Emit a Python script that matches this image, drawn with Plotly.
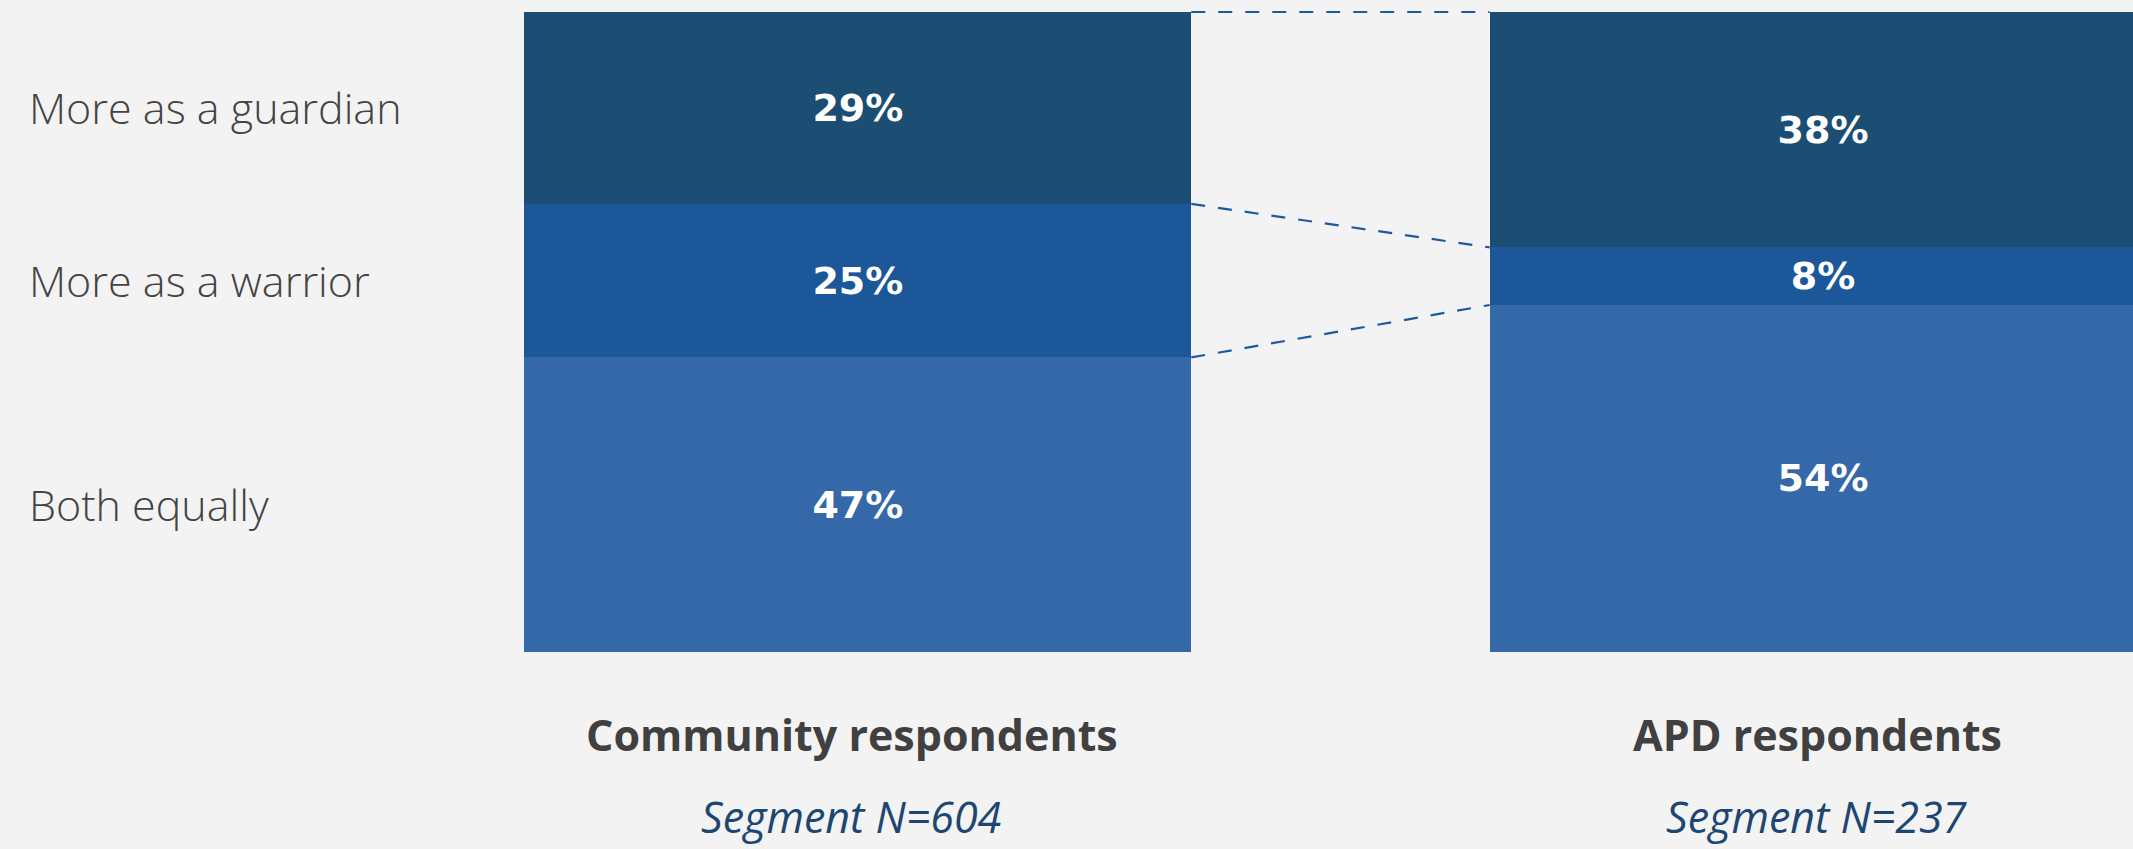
import plotly.graph_objects as go

# ---- data ----
groups = ["Community respondents", "APD respondents"]
group_n = ["Segment N=604", "Segment N=237"]
categories = ["More as a guardian", "More as a warrior", "Both equally"]
# segment heights as drawn (share of bar, %)
guardian = [30.0, 36.8]
warrior = [24.0, 9.0]
both = [46.0, 54.2]
# printed labels
guardian_lbl = ["29%", "38%"]
warrior_lbl = ["25%", "8%"]
both_lbl = ["47%", "54%"]

# ---- styles ----
BG = "#f3f3f3"
C_GUARD = "#1c4d72"
C_WAR = "#1c5799"
C_BOTH = "#3568a8"
C_DASH = "#1c5aa0"
BAR_W = 0.6908
xpos = [0, 1]

fig = go.Figure()
pct_font = dict(family="DejaVu Sans", size=38, color="white", weight="bold")
for vals, lbls, col, name in [
    (both, both_lbl, C_BOTH, categories[2]),
    (warrior, warrior_lbl, C_WAR, categories[1]),
    (guardian, guardian_lbl, C_GUARD, categories[0]),
]:
    fig.add_trace(go.Bar(
        x=xpos, y=vals, width=BAR_W, name=name,
        marker=dict(color=col, line=dict(width=0)),
        text=lbls, texttemplate="%{text}", textposition="inside",
        insidetextanchor="middle", textangle=0, textfont=pct_font,
        constraintext="none", hoverinfo="skip",
    ))

# connector dashed lines between cumulative levels
def cum_levels(i):
    return [both[i] + warrior[i] + guardian[i], both[i] + warrior[i], both[i]]

lev0, lev1 = cum_levels(0), cum_levels(1)
for a, b in zip(lev0, lev1):
    fig.add_trace(go.Scatter(
        x=[xpos[0] + BAR_W / 2, xpos[1] - BAR_W / 2], y=[a, b],
        mode="lines", line=dict(color=C_DASH, width=2.2, dash="14px,13px"),
        hoverinfo="skip", showlegend=False,
    ))

annotations = []
# row labels aligned to the community bar segments
centers = [lev0[1] + guardian[0] / 2, both[0] + warrior[0] / 2, both[0] / 2]
for lab, yc in zip(categories, centers):
    annotations.append(dict(
        x=27 / 2133, xref="paper", y=yc, yref="y", text=lab, showarrow=False,
        xanchor="left", yanchor="middle",
        font=dict(family="Open Sans", size=43, color="#444444", weight=300),
    ))
for xp, g, n in zip(xpos, groups, group_n):
    annotations.append(dict(
        x=xp, y=-12.87, xref="x", yref="y", text=g, showarrow=False,
        xanchor="center", yanchor="middle", xshift=-6,
        font=dict(family="Open Sans", size=43, color="#404040", weight="bold"),
    ))
    annotations.append(dict(
        x=xp, y=0, xref="x", yref="paper", text=n, showarrow=False,
        xanchor="center", yanchor="bottom", xshift=-6, yshift=1,
        font=dict(family="Open Sans", size=43, color="#1d4772", style="italic"),
    ))

fig.update_layout(
    width=2133, height=849,
    margin=dict(l=0, r=0, t=0, b=0, pad=0),
    paper_bgcolor=BG, plot_bgcolor=BG,
    barmode="stack", showlegend=False,
    annotations=annotations,
    xaxis=dict(range=[-0.8888, 1.3211], visible=False, fixedrange=True),
    yaxis=dict(range=[-30.84, 101.876], visible=False, fixedrange=True),
)

fig.write_html("out.html")
